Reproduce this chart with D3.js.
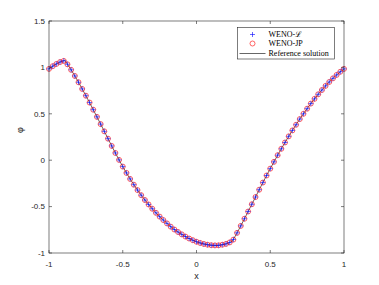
<!DOCTYPE html>
<html lang="en">
<head>
<meta charset="UTF-8">
<title>WENO comparison</title>
<script src="https://d3js.org/d3.v7.min.js"></script>
<style>
  body { margin: 0; background: #fff; }
  svg { display: block; }
</style>
</head>
<body>
<div id="chart"></div>
<script>
// grid points (80 cells) and numerical values
const xs = [
  -1, -0.975, -0.95, -0.925, -0.9, -0.875, -0.85, -0.825, -0.8, -0.775,
  -0.75, -0.725, -0.7, -0.675, -0.65, -0.625, -0.6, -0.575, -0.55, -0.525,
  -0.5, -0.475, -0.45, -0.425, -0.4, -0.375, -0.35, -0.325, -0.3, -0.275,
  -0.25, -0.225, -0.2, -0.175, -0.15, -0.125, -0.1, -0.075, -0.05, -0.025,
  0, 0.025, 0.05, 0.075, 0.1, 0.125, 0.15, 0.175, 0.2, 0.225,
  0.25, 0.275, 0.3, 0.325, 0.35, 0.375, 0.4, 0.425, 0.45, 0.475,
  0.5, 0.525, 0.55, 0.575, 0.6, 0.625, 0.65, 0.675, 0.7, 0.725,
  0.75, 0.775, 0.8, 0.825, 0.85, 0.875, 0.9, 0.925, 0.95, 0.975, 1
];
const phiWenoL = [
  0.984, 1.013, 1.037, 1.058, 1.071, 1.034, 0.974, 0.908, 0.840, 0.768,
  0.695, 0.621, 0.544, 0.467, 0.389, 0.311, 0.232, 0.154, 0.078, 0.003,
  -0.069, -0.137, -0.202, -0.264, -0.322, -0.377, -0.429, -0.477, -0.523, -0.567,
  -0.608, -0.645, -0.681, -0.716, -0.747, -0.774, -0.799, -0.823, -0.844, -0.862,
  -0.879, -0.892, -0.903, -0.911, -0.916, -0.918, -0.917, -0.911, -0.902, -0.886,
  -0.855, -0.783, -0.708, -0.631, -0.553, -0.475, -0.397, -0.318, -0.241, -0.165,
  -0.091, -0.018, 0.054, 0.123, 0.191, 0.257, 0.321, 0.382, 0.443, 0.500,
  0.555, 0.610, 0.661, 0.710, 0.756, 0.801, 0.843, 0.882, 0.919, 0.953, 0.984
];
const phiWenoJP = [
  0.984, 1.013, 1.037, 1.058, 1.070, 1.033, 0.974, 0.908, 0.840, 0.768,
  0.695, 0.621, 0.544, 0.467, 0.389, 0.311, 0.232, 0.154, 0.078, 0.003,
  -0.069, -0.137, -0.202, -0.264, -0.322, -0.377, -0.429, -0.477, -0.523, -0.567,
  -0.608, -0.645, -0.681, -0.716, -0.747, -0.774, -0.799, -0.823, -0.844, -0.862,
  -0.879, -0.892, -0.903, -0.911, -0.916, -0.918, -0.917, -0.911, -0.902, -0.886,
  -0.856, -0.783, -0.708, -0.631, -0.553, -0.475, -0.397, -0.318, -0.241, -0.165,
  -0.091, -0.018, 0.054, 0.123, 0.191, 0.257, 0.321, 0.382, 0.443, 0.500,
  0.555, 0.610, 0.661, 0.710, 0.756, 0.801, 0.843, 0.882, 0.919, 0.953, 0.984
];
// reference solution, with the two corners
const refX = [
  -1, -0.975, -0.95, -0.925, -0.9, -0.8935, -0.875, -0.85, -0.825, -0.8, -0.775,
  -0.75, -0.725, -0.7, -0.675, -0.65, -0.625, -0.6, -0.575, -0.55, -0.525,
  -0.5, -0.475, -0.45, -0.425, -0.4, -0.375, -0.35, -0.325, -0.3, -0.275,
  -0.25, -0.225, -0.2, -0.175, -0.15, -0.125, -0.1, -0.075, -0.05, -0.025,
  0, 0.025, 0.05, 0.075, 0.1, 0.125, 0.15, 0.175, 0.2, 0.225, 0.244,
  0.25, 0.275, 0.3, 0.325, 0.35, 0.375, 0.4, 0.425, 0.45, 0.475,
  0.5, 0.525, 0.55, 0.575, 0.6, 0.625, 0.65, 0.675, 0.7, 0.725,
  0.75, 0.775, 0.8, 0.825, 0.85, 0.875, 0.9, 0.925, 0.95, 0.975, 1
];
const refPhi = [
  0.984, 1.013, 1.037, 1.058, 1.073, 1.078, 1.035, 0.974, 0.908, 0.840, 0.768,
  0.695, 0.621, 0.544, 0.467, 0.389, 0.311, 0.232, 0.154, 0.078, 0.003,
  -0.069, -0.137, -0.202, -0.264, -0.322, -0.377, -0.429, -0.477, -0.523, -0.567,
  -0.608, -0.645, -0.681, -0.716, -0.747, -0.774, -0.799, -0.823, -0.844, -0.862,
  -0.879, -0.892, -0.903, -0.911, -0.916, -0.918, -0.917, -0.911, -0.902, -0.887, -0.870,
  -0.854, -0.783, -0.708, -0.631, -0.553, -0.475, -0.397, -0.318, -0.241, -0.165,
  -0.091, -0.018, 0.054, 0.123, 0.191, 0.257, 0.321, 0.382, 0.443, 0.500,
  0.555, 0.610, 0.661, 0.710, 0.756, 0.801, 0.843, 0.882, 0.919, 0.953, 0.984
];
const xTicks = [-1, -0.5, 0, 0.5, 1];
const yTicks = [-1, -0.5, 0, 0.5, 1, 1.5];
const legendLabels = ["WENO-\u2112", "WENO-JP", "Reference solution"];

const W = 379, H = 285;
const margin = { top: 21, right: 35, bottom: 32, left: 49 };
const width = W - margin.left - margin.right;
const height = H - margin.top - margin.bottom;
const axisColor = "#262626";

const svg = d3.select("#chart").append("svg")
    .attr("width", W)
    .attr("height", H);

const g = svg.append("g")
    .attr("transform", `translate(${margin.left},${margin.top})`);

const x = d3.scaleLinear().domain([-1, 1]).range([0, width]);
const y = d3.scaleLinear().domain([-1, 1.5]).range([height, 0]);

// reference line
const refData = refX.map((v, i) => [v, refPhi[i]]);
g.append("path")
    .datum(refData)
    .attr("fill", "none")
    .attr("stroke", "#000")
    .attr("stroke-width", 0.6)
    .attr("d", d3.line().x(d => x(d[0])).y(d => y(d[1])));

// red circles (WENO-JP)
g.selectAll("circle.jp")
    .data(xs.map((v, i) => [v, phiWenoJP[i]]))
    .join("circle")
    .attr("class", "jp")
    .attr("cx", d => x(d[0]))
    .attr("cy", d => y(d[1]))
    .attr("r", 2.5)
    .attr("fill", "none")
    .attr("stroke", "#ff0000")
    .attr("stroke-width", 0.6);

// blue pluses (WENO-L)
const plus = (cx, cy, s) => `M${cx - s},${cy}H${cx + s}M${cx},${cy - s}V${cy + s}`;
g.selectAll("path.l")
    .data(xs.map((v, i) => [v, phiWenoL[i]]))
    .join("path")
    .attr("class", "l")
    .attr("d", d => plus(x(d[0]), y(d[1]), 2.5))
    .attr("stroke", "#0000ff")
    .attr("stroke-width", 0.6);

// axes: box with inward ticks on all sides
const tickLen = 3;
const ax = g.append("g").attr("stroke", axisColor).attr("stroke-width", 0.6).attr("fill", "none");
ax.append("rect").attr("x", 0).attr("y", 0).attr("width", width).attr("height", height);
xTicks.forEach(t => {
  ax.append("line").attr("x1", x(t)).attr("x2", x(t)).attr("y1", height).attr("y2", height - tickLen);
  ax.append("line").attr("x1", x(t)).attr("x2", x(t)).attr("y1", 0).attr("y2", tickLen);
});
yTicks.forEach(t => {
  ax.append("line").attr("x1", 0).attr("x2", tickLen).attr("y1", y(t)).attr("y2", y(t));
  ax.append("line").attr("x1", width).attr("x2", width - tickLen).attr("y1", y(t)).attr("y2", y(t));
});

const fmt = d => String(d);
g.selectAll("text.xt")
    .data(xTicks)
    .join("text")
    .attr("class", "xt")
    .attr("x", d => x(d))
    .attr("y", height + 14)
    .attr("text-anchor", "middle")
    .attr("font-family", "Liberation Sans, Arial, sans-serif")
    .attr("font-size", 8)
    .attr("fill", axisColor)
    .text(fmt);

g.selectAll("text.yt")
    .data(yTicks)
    .join("text")
    .attr("class", "yt")
    .attr("x", -4)
    .attr("y", d => y(d))
    .attr("dy", "0.35em")
    .attr("text-anchor", "end")
    .attr("font-family", "Liberation Sans, Arial, sans-serif")
    .attr("font-size", 8)
    .attr("fill", axisColor)
    .text(fmt);

g.append("text")
    .attr("x", width / 2)
    .attr("y", height + 26)
    .attr("text-anchor", "middle")
    .attr("font-family", "Liberation Sans, Arial, sans-serif")
    .attr("font-size", 9)
    .attr("fill", axisColor)
    .text("x");

g.append("text")
    .attr("transform", `translate(-26,${height / 2 - 7}) rotate(-90)`)
    .attr("text-anchor", "middle")
    .attr("font-family", "Liberation Sans, Arial, sans-serif")
    .attr("font-size", 9)
    .attr("fill", axisColor)
    .text("\u03c6");

// legend
const lg = svg.append("g").attr("transform", "translate(237.5,27.5)");
lg.append("rect")
    .attr("width", 97)
    .attr("height", 31.5)
    .attr("fill", "#fff")
    .attr("stroke", axisColor)
    .attr("stroke-width", 0.6);

const rowY = [7, 16, 26];
legendLabels.forEach((lab, i) => {
  const ry = rowY[i];
  if (i === 0) {
    lg.append("path").attr("d", plus(15, ry, 2.5)).attr("stroke", "#0000ff").attr("stroke-width", 0.6);
  } else if (i === 1) {
    lg.append("circle").attr("cx", 15).attr("cy", ry).attr("r", 2.5)
      .attr("fill", "none").attr("stroke", "#ff0000").attr("stroke-width", 0.6);
  } else {
    lg.append("line").attr("x1", 2).attr("x2", 28).attr("y1", ry).attr("y2", ry)
      .attr("stroke", "#000").attr("stroke-width", 0.6);
  }
  lg.append("text")
    .attr("x", 31)
    .attr("y", ry)
    .attr("dy", "0.35em")
    .attr("font-family", "Liberation Serif, Times New Roman, serif")
    .attr("font-size", 8)
    .attr("fill", "#000")
    .text(lab);
});
</script>
</body>
</html>
